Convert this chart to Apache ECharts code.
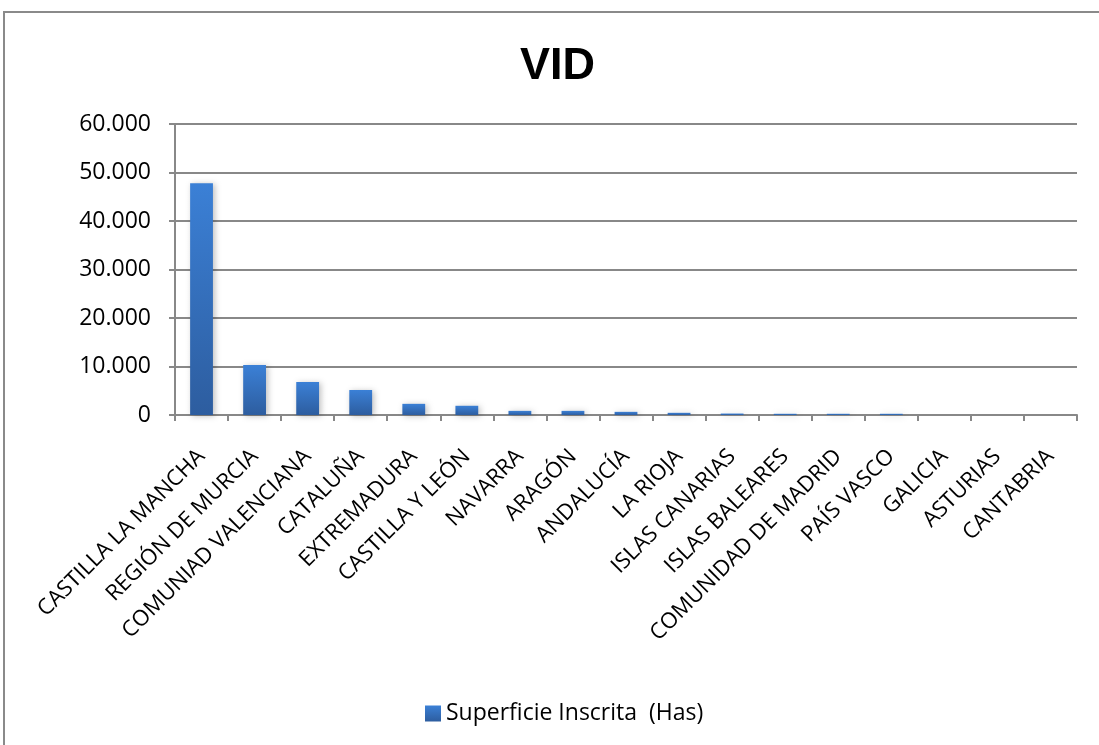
<!DOCTYPE html>
<html><head><meta charset="utf-8">
<script src="https://cdn.jsdelivr.net/npm/echarts@6/dist/echarts.min.js"></script>
<style>html,body{margin:0;padding:0;background:#fff}#c{width:1099px;height:745px}</style>
</head><body><div id="c"></div>
<script>
const categories = ["CASTILLA LA MANCHA","REGIÓN DE MURCIA","COMUNIAD VALENCIANA","CATALUÑA","EXTREMADURA","CASTILLA Y LEÓN","NAVARRA","ARAGÓN","ANDALUCÍA","LA RIOJA","ISLAS CANARIAS","ISLAS BALEARES","COMUNIDAD DE MADRID","PAÍS VASCO","GALICIA","ASTURIAS","CANTABRIA"];
const superficie = [47800,10300,6800,5150,2300,1900,850,850,650,450,300,250,250,250,0,0,0];
const seriesName = "Superficie Inscrita  (Has)";
const titleText = "VID";

const chart = echarts.init(document.getElementById('c'), null, {renderer:'canvas'});
const fmt = v => v === 0 ? '0' : String(v).replace(/\B(?=(\d{3})+(?!\d))/g, '.');
chart.setOption({
  animation:false,
  backgroundColor:'#fff',
  graphic:[{type:'rect', shape:{x:4,y:12,width:1200,height:800}, style:{fill:'none',stroke:'#8a8a8a',lineWidth:2}, silent:true}],
  title:{text:titleText,left:515,top:39,textStyle:{fontFamily:'Liberation Sans',fontWeight:'bold',fontSize:45,color:'#000'}},
  legend:{bottom:15,left:420,itemWidth:16,itemHeight:16,itemGap:6,icon:'rect',
    textStyle:{fontFamily:'Open Sans',fontSize:23,color:'#000'}},
  grid:{left:175,right:22,top:124,bottom:330,containLabel:false},
  xAxis:{type:'category',data:categories,
    axisLine:{lineStyle:{color:'#888',width:2}},
    axisTick:{show:true,length:6,lineStyle:{color:'#888',width:2},alignWithLabel:false},
    axisLabel:{rotate:45,interval:0,margin:38,fontFamily:'Open Sans',fontSize:22,color:'#000'}},
  yAxis:{type:'value',min:0,max:60000,interval:10000,
    axisLine:{show:true,lineStyle:{color:'#888',width:2}},
    axisTick:{show:true,length:6,lineStyle:{color:'#888',width:2}},
    splitLine:{lineStyle:{color:'#888',width:2}},
    axisLabel:{margin:24,fontFamily:'Open Sans',fontSize:23,color:'#000',formatter:fmt}},
  series:[{name:seriesName,type:'bar',data:superficie,barWidth:'43%',
    itemStyle:{color:new echarts.graphic.LinearGradient(0,0,0,1,[{offset:0,color:'#3b80d6'},{offset:1,color:'#2d5d9f'}]),
      shadowColor:'rgba(0,0,0,0.25)',shadowBlur:6,shadowOffsetX:2,shadowOffsetY:1}}]
});
</script></body></html>
